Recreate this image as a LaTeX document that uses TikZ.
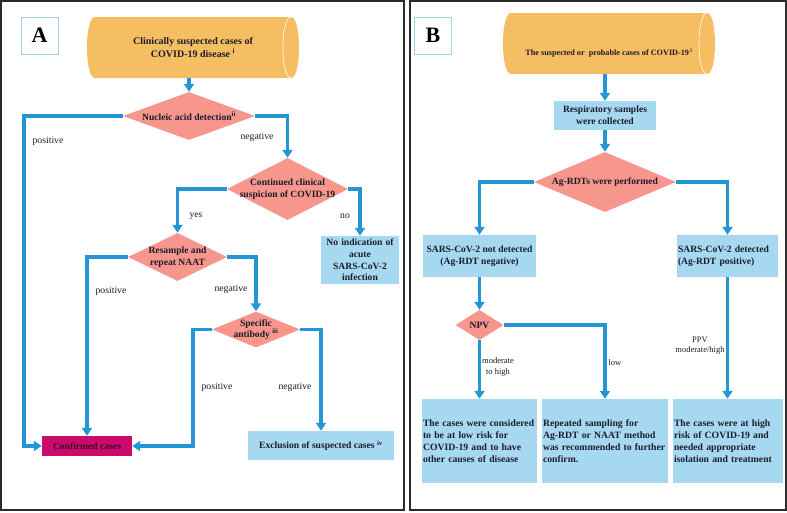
\documentclass[tikz,border=0pt]{standalone}
\usepackage{fontspec}
\setmainfont{Liberation Serif}
\usetikzlibrary{shapes.geometric,arrows.meta,calc}
\definecolor{cylc}{HTML}{F6BE62}
\definecolor{salmon}{HTML}{F7968C}
\definecolor{lblue}{HTML}{A6D8F2}
\definecolor{ablue}{HTML}{2396D6}
\definecolor{confc}{HTML}{CC0A6E}
\definecolor{txt}{HTML}{1C1C2A}
\definecolor{conftxt}{HTML}{3A0A22}
\definecolor{lbord}{HTML}{A0D2E6}
\definecolor{frame}{HTML}{2B2B2B}
\begin{document}
\begin{tikzpicture}[x=1pt,y=-1pt,
  arr/.style={draw=ablue, line width=3.6pt, -{Triangle[width=10pt,length=8pt]}, line join=miter},
  dia/.style={shape=diamond, fill=salmon, inner sep=0pt, draw=none},
  dtxt/.style={font=\bfseries\fontsize{9.6}{11.5}\selectfont, align=center, text=txt, inner sep=0pt},
  box/.style={rectangle, fill=lblue, inner sep=1pt, font=\bfseries\fontsize{9.6}{11.7}\selectfont, align=center, text=txt},
  lbox/.style={box, align=left, font=\bfseries\fontsize{9.7}{12}\selectfont},
  lbl/.style={font=\fontsize{9.7}{11}\selectfont, text=txt, align=center, inner sep=0pt},
  lblB/.style={font=\fontsize{8.5}{10.5}\selectfont, text=txt, align=center, inner sep=0pt},
  cylnode/.style={rectangle, inner sep=0pt, draw=none},
  panel/.style={draw=frame, line width=2pt},
  tagbox/.style={draw=lbord, line width=1pt, fill=white, minimum width=37pt, minimum height=37pt, inner sep=0pt, font=\bfseries\fontsize{22}{24}\selectfont, text=black}
]
\useasboundingbox (0,0) rectangle (787,512);
\fill[white] (0,0) rectangle (787,512);
\draw[panel] (1,1) rectangle (404,510);
\draw[panel] (409.5,1) rectangle (785.5,510);

% ---------------- Panel A ----------------
\node[tagbox] (tagA) at (39.5,35.5) {A};
\fill[cylc] (95,17) -- (291,17) .. controls (301.7,17) and (301.7,78) .. (291,78) -- (95,78) .. controls (84.3,78) and (84.3,17) .. (95,17) -- cycle;
\draw[white, line width=0.6pt] (291,17) .. controls (280.3,17) and (280.3,78) .. (291,78);
\node[cylnode, minimum width=212pt, minimum height=61pt, font=\bfseries\fontsize{10}{13}\selectfont, text=txt, align=center] (cylA) at (193,47.5) {Clinically suspected cases of\\COVID-19 disease \textsuperscript{i}};

\node[dia, minimum width=132pt, minimum height=48pt, label={[dtxt]center:{Nucleic acid detection\textsuperscript{ii}}}] (d1) at (189,116) {};
\node[dia, minimum width=121pt, minimum height=62pt, label={[dtxt]center:{Continued clinical\\suspicion of COVID-19}}] (d2) at (287.5,189) {};
\node[dia, minimum width=99pt, minimum height=48pt, label={[dtxt]center:{Resample and\\repeat NAAT}}] (d3) at (177.5,257) {};
\node[dia, minimum width=88pt, minimum height=36pt, label={[dtxt]center:{Specific\\antibody \textsuperscript{iii}}}] (d4) at (256,329.5) {};

\node[box, minimum width=78pt, minimum height=48pt, text width=76pt] (noind) at (360,260) {No indication of\\acute\\SARS-CoV-2\\infection};
\node[box, fill=confc, minimum width=90pt, minimum height=20pt, text=conftxt] (conf) at (87,446) {Confirmed cases};
\node[box, minimum width=146pt, minimum height=29pt] (excl) at (321,445.5) {Exclusion of suspected cases \textsuperscript{iv}};

\draw[arr] (cylA.south -| d1.north) -- (d1.north);
\draw[arr] (d1.west) -- ++(-99,0) |- (conf.west);
\draw[arr] (d1.east) -| (d2.north);
\draw[arr] (d2.west) -| (d3.north);
\draw[arr] (d2.east) -| (noind.north);
\draw[arr] (d3.west) -| (conf.north);
\draw[arr] (d3.east) -| (d4.north);
\draw[arr] (d4.west) -- ++(-19,0) |- (conf.east);
\draw[arr] (d4.east) -| (excl.north);

\node[lbl] (l1) at (48,141) {positive};
\node[lbl] (l2) at (257,137) {negative};
\node[lbl] (l3) at (196,216) {yes};
\node[lbl] (l4) at (345,216) {no};
\node[lbl] (l5) at (111,291) {positive};
\node[lbl] (l6) at (231,289) {negative};
\node[lbl] (l7) at (217,387) {positive};
\node[lbl] (l8) at (295,387) {negative};

% ---------------- Panel B ----------------
\node[tagbox] (tagB) at (433,35.5) {B};
\fill[cylc] (511,13) -- (707,13) .. controls (717.7,13) and (717.7,74) .. (707,74) -- (511,74) .. controls (500.3,74) and (500.3,13) .. (511,13) -- cycle;
\draw[white, line width=0.6pt] (707,13) .. controls (696.3,13) and (696.3,74) .. (707,74);
\node[cylnode, minimum width=212pt, minimum height=61pt, label={[font=\bfseries\fontsize{8.2}{10}\selectfont, text=txt, yshift=-9pt]center:{The suspected or~ probable cases of COVID-19\,\textsuperscript{i}}}] (cylB) at (609,43.5) {};

\node[box, minimum width=102pt, minimum height=29pt] (resp) at (605,115.5) {Respiratory samples\\were collected};
\node[dia, minimum width=142pt, minimum height=60pt, label={[dtxt]center:{Ag-RDTs were performed}}] (dB) at (605,182) {};
\node[box, minimum width=113pt, minimum height=42pt] (notdet) at (479.5,256) {SARS-CoV-2 not detected\\(Ag-RDT negative)};
\node[lbox, font=\bfseries\fontsize{9.6}{11.7}\selectfont, minimum width=101pt, minimum height=42pt, text width=99pt] (det) at (727.5,256) {SARS-CoV-2 detected\\(Ag-RDT positive)};
\node[dia, minimum width=48pt, minimum height=30pt, label={[dtxt]center:{NPV}}] (npv) at (479.5,325) {};

\node[lbox, minimum width=115pt, minimum height=84pt, text width=113pt] (b1) at (479.5,441) {The cases were considered\\to be at low risk for\\COVID-19 and to have\\other causes of disease};
\node[lbox, minimum width=126pt, minimum height=84pt, text width=124pt] (b2) at (605,441) {Repeated sampling for\\Ag-RDT or NAAT method\\was recommended to further\\confirm.};
\node[lbox, minimum width=110pt, minimum height=84pt, text width=108pt] (b3) at (728,441) {The cases were at high\\risk of COVID-19 and\\needed appropriate\\isolation and treatment};

\draw[arr] (cylB.south -| resp.north) -- (resp.north);
\draw[arr] (resp.south) -- (dB.north);
\draw[arr] (dB.west) -| (notdet.north);
\draw[arr] (dB.east) -| (det.north);
\draw[arr] (notdet.south) -- (npv.north);
\draw[arr] (npv.south) -- (npv.south |- b1.north);
\draw[arr] (npv.east) -| (b2.north);
\draw[arr] (det.south) -- (det.south |- b3.north);

\node[lblB] (m1) at (498,367) {moderate\\to high};
\node[lblB] (m2) at (615,363) {low};
\node[lblB] (m3) at (700,345.5) {PPV\\moderate/high};
\end{tikzpicture}
\end{document}
